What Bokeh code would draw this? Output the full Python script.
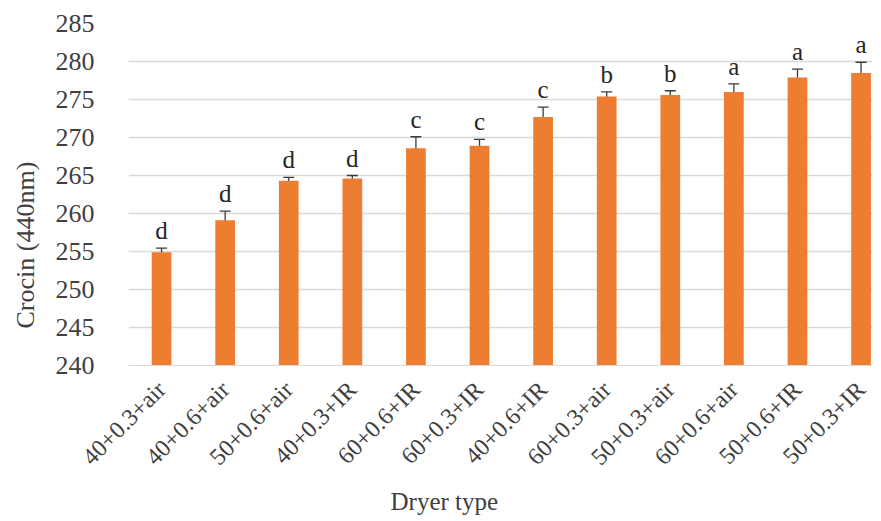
import math
from bokeh.plotting import figure
from bokeh.models import ColumnDataSource, Whisker, FixedTicker, Title, TeeHead
from bokeh.core.properties import value
from bokeh.embed import file_html
from bokeh.resources import INLINE

categories = ["40+0.3+air", "40+0.6+air", "50+0.6+air", "40+0.3+IR", "60+0.6+IR", "60+0.3+IR",
              "40+0.6+IR", "60+0.3+air", "50+0.3+air", "60+0.6+air", "50+0.6+IR", "50+0.3+IR"]
crocin = [254.9, 259.1, 264.3, 264.6, 268.6, 268.9, 272.7, 275.4, 275.6, 276.0, 277.9, 278.5]
errors = [0.55, 1.2, 0.45, 0.4, 1.5, 0.85, 1.3, 0.6, 0.55, 1.05, 1.1, 1.4]
letters = ["d", "d", "d", "d", "c", "c", "c", "b", "b", "a", "a", "a"]
y_ticks = [240, 245, 250, 255, 260, 265, 270, 275, 280, 285]

FONT = "'Liberation Serif'"
TXT = "#404040"

xs = list(range(1, len(categories) + 1))
src = ColumnDataSource(dict(
    x=xs, top=crocin,
    upper=[v + e for v, e in zip(crocin, errors)],
    lower=[v - e for v, e in zip(crocin, errors)],
    letter=letters,
))

p = figure(width=881, height=521, output_backend="svg", toolbar_location=None,
           x_range=(0.48, 12.18), y_range=(240, 285),
           min_border_left=128, min_border_right=9, min_border_top=23, min_border_bottom=156)
p.outline_line_color = None
p.background_fill_color = "white"
p.border_fill_color = "white"

p.vbar(x="x", top="top", bottom=240, width=0.31, source=src, fill_color="#ED7D31", line_color=None)

w = Whisker(source=src, base="x", upper="upper", lower="lower", line_color="#3a3a3a", line_width=1.3,
            upper_head=TeeHead(size=11, line_color="#3a3a3a", line_width=1.3),
            lower_head=TeeHead(size=11, line_color="#3a3a3a", line_width=1.3))
p.add_layout(w)

p.text(x="x", y="upper", text="letter", source=src, text_align="center", text_baseline="bottom",
       y_offset=-4, text_font=value("Liberation Serif"), text_font_size="25px", text_color="#262626")

# axes
p.xaxis.ticker = FixedTicker(ticks=xs)
p.xaxis.major_label_overrides = {x: c for x, c in zip(xs, categories)}
p.xaxis.major_label_orientation = math.pi / 4
p.xaxis.major_tick_line_color = None
p.xaxis.minor_tick_line_color = None
p.xaxis.axis_line_color = "#d9d9d9"
p.xaxis.major_label_text_font = FONT
p.xaxis.major_label_text_font_size = "24px"
p.xaxis.major_label_text_color = TXT
p.xaxis.major_label_standoff = 14

p.yaxis.ticker = FixedTicker(ticks=y_ticks)
p.yaxis.major_tick_line_color = None
p.yaxis.minor_tick_line_color = None
p.yaxis.axis_line_color = None
p.yaxis.major_label_text_font = FONT
p.yaxis.major_label_text_font_size = "26px"
p.yaxis.major_label_text_color = TXT
p.yaxis.major_label_standoff = 28

p.xgrid.grid_line_color = None
p.ygrid.grid_line_color = "#d9d9d9"
p.ygrid.grid_line_width = 1.5

p.add_layout(Title(text="Dryer type", align="left", offset=262, standoff=10, vertical_align="top",
                   text_font=FONT, text_font_size="25px", text_color=TXT, text_font_style="normal"), "below")
p.add_layout(Title(text="Crocin (440nm)", align="left", offset=37, standoff=21, vertical_align="top",
                   text_font=FONT, text_font_size="26px", text_color=TXT, text_font_style="normal"), "left")

open("out.html", "w").write(file_html(p, INLINE))
